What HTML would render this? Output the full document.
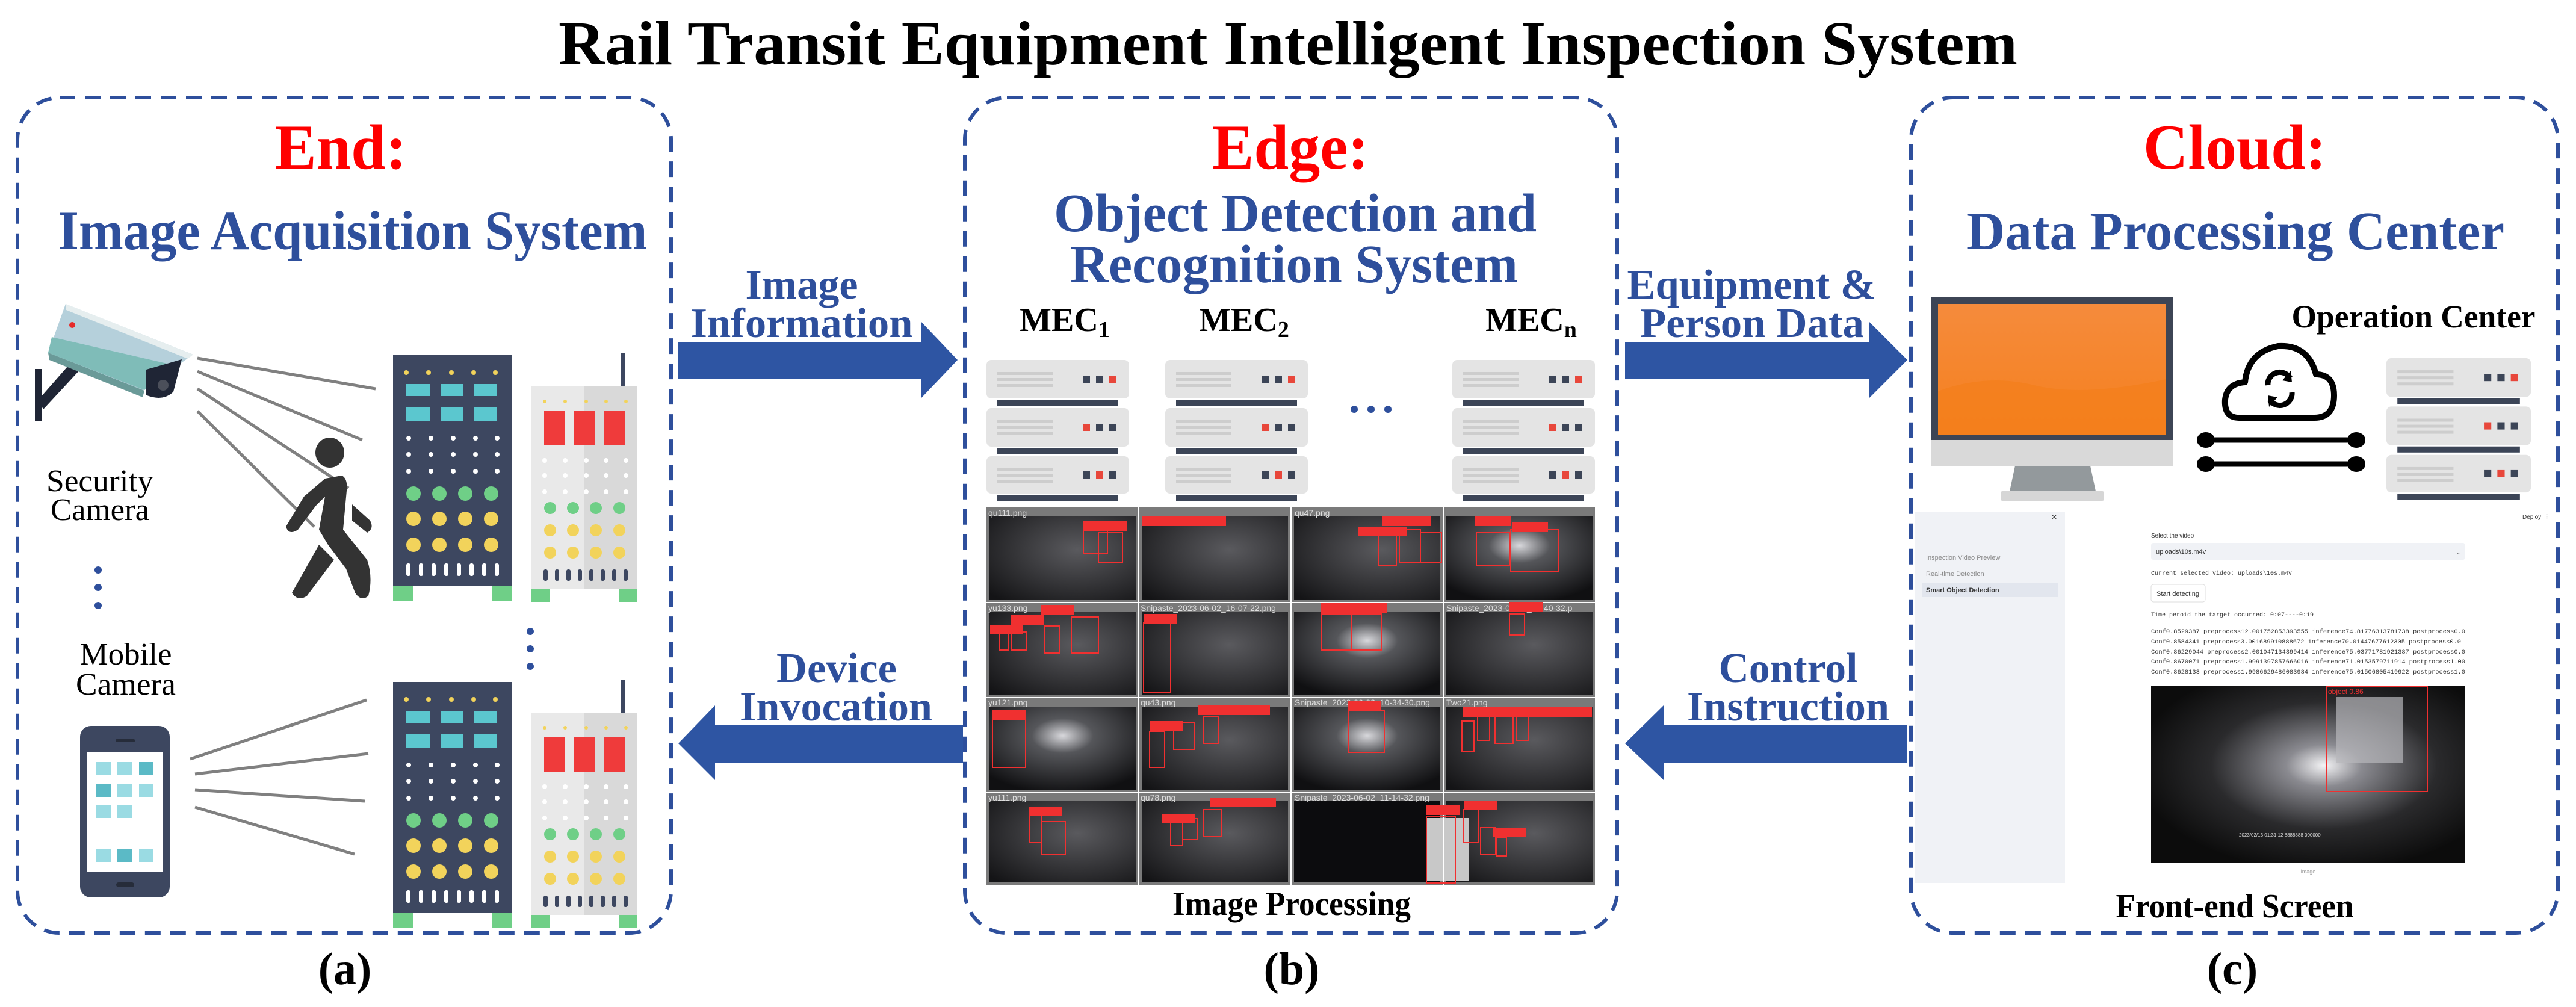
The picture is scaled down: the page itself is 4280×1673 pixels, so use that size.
<!DOCTYPE html>
<html><head><meta charset="utf-8"><style>
html,body{margin:0;padding:0;background:#fff}
svg{display:block}
.t{font-family:"Liberation Serif",serif;font-weight:bold}
.b{fill:#2E4F9C}
.r{fill:#FF0000}
.k{fill:#000}
.ui{font-family:"Liberation Sans",sans-serif}
.mono{font-family:"Liberation Mono",monospace}
</style></head><body>
<svg width="4280" height="1673" viewBox="0 0 4280 1673" xmlns="http://www.w3.org/2000/svg">
<defs>
<g id="srv">
 <rect x="0" y="0" width="237" height="64" rx="8" fill="#e4e4e4"/>
 <rect x="18" y="66" width="201" height="10" fill="#3c4557"/>
 <rect x="0" y="80" width="237" height="64" rx="8" fill="#e4e4e4"/>
 <rect x="18" y="146" width="201" height="10" fill="#3c4557"/>
 <rect x="0" y="160" width="237" height="62" rx="8" fill="#e4e4e4"/>
 <rect x="18" y="224" width="201" height="10" fill="#3c4557"/>
 <g fill="#cdcdcd">
  <rect x="18" y="20" width="92" height="5"/><rect x="18" y="30" width="92" height="5"/><rect x="18" y="40" width="92" height="5"/>
  <rect x="18" y="100" width="92" height="5"/><rect x="18" y="110" width="92" height="5"/><rect x="18" y="120" width="92" height="5"/>
  <rect x="18" y="180" width="92" height="5"/><rect x="18" y="190" width="92" height="5"/><rect x="18" y="200" width="92" height="5"/>
 </g>
 <rect x="160" y="26" width="12" height="12" fill="#3c4557"/><rect x="182" y="26" width="12" height="12" fill="#3c4557"/><rect x="204" y="26" width="12" height="12" fill="#e8473b"/>
 <rect x="160" y="106" width="12" height="12" fill="#e8473b"/><rect x="182" y="106" width="12" height="12" fill="#3c4557"/><rect x="204" y="106" width="12" height="12" fill="#3c4557"/>
 <rect x="160" y="185" width="12" height="12" fill="#3c4557"/><rect x="182" y="185" width="12" height="12" fill="#e8473b"/><rect x="204" y="185" width="12" height="12" fill="#3c4557"/>
</g>
<g id="rack1">
 <rect x="0" y="0" width="197" height="384" fill="#3d4760"/>
 <rect x="0" y="384" width="33" height="24" fill="#6fcf87"/><rect x="164" y="384" width="33" height="24" fill="#6fcf87"/>
 <g fill="#f2d35b"><circle cx="22" cy="29" r="4"/><circle cx="59" cy="29" r="4"/><circle cx="97" cy="29" r="4"/><circle cx="134" cy="29" r="4"/><circle cx="170" cy="29" r="4"/></g>
 <g fill="#5bc7cf"><rect x="22" y="48" width="39" height="20"/><rect x="79" y="48" width="38" height="20"/><rect x="135" y="48" width="38" height="20"/>
 <rect x="22" y="87" width="39" height="22"/><rect x="79" y="87" width="38" height="22"/><rect x="135" y="87" width="38" height="22"/></g>
 <g fill="#fff">
  <circle cx="26" cy="138" r="4"/><circle cx="63" cy="138" r="4"/><circle cx="100" cy="138" r="4"/><circle cx="137" cy="138" r="4"/><circle cx="173" cy="138" r="4"/>
  <circle cx="26" cy="165" r="4"/><circle cx="63" cy="165" r="4"/><circle cx="100" cy="165" r="4"/><circle cx="137" cy="165" r="4"/><circle cx="173" cy="165" r="4"/>
  <circle cx="26" cy="193" r="4"/><circle cx="63" cy="193" r="4"/><circle cx="100" cy="193" r="4"/><circle cx="137" cy="193" r="4"/><circle cx="173" cy="193" r="4"/>
  <rect x="22" y="346" width="7" height="21" rx="3"/><rect x="43" y="346" width="7" height="21" rx="3"/><rect x="64" y="346" width="7" height="21" rx="3"/><rect x="85" y="346" width="7" height="21" rx="3"/><rect x="106" y="346" width="7" height="21" rx="3"/><rect x="127" y="346" width="7" height="21" rx="3"/><rect x="148" y="346" width="7" height="21" rx="3"/><rect x="169" y="346" width="7" height="21" rx="3"/>
 </g>
 <g fill="#6fcf87"><circle cx="34" cy="230" r="12"/><circle cx="77" cy="230" r="12"/><circle cx="120" cy="230" r="12"/><circle cx="163" cy="230" r="12"/></g>
 <g fill="#f2d35b"><circle cx="34" cy="272" r="12"/><circle cx="77" cy="272" r="12"/><circle cx="120" cy="272" r="12"/><circle cx="163" cy="272" r="12"/>
 <circle cx="34" cy="315" r="12"/><circle cx="77" cy="315" r="12"/><circle cx="120" cy="315" r="12"/><circle cx="163" cy="315" r="12"/></g>
</g>
<g id="rack2">
 <rect x="148" y="-55" width="8" height="56" fill="#3d4760"/>
 <rect x="0" y="0" width="88" height="336" fill="#e9e9e9"/><rect x="88" y="0" width="88" height="336" fill="#d9d9d9"/>
 <rect x="0" y="336" width="30" height="22" fill="#6fcf87"/><rect x="146" y="336" width="30" height="22" fill="#6fcf87"/>
 <g fill="#f2d35b"><circle cx="22" cy="25" r="3"/><circle cx="56" cy="25" r="3"/><circle cx="91" cy="25" r="3"/><circle cx="124" cy="25" r="3"/><circle cx="157" cy="25" r="3"/></g>
 <g fill="#ef3b3b"><rect x="21" y="41" width="35" height="57"/><rect x="71" y="41" width="34" height="57"/><rect x="121" y="41" width="34" height="57"/></g>
 <g fill="#fff">
  <circle cx="22" cy="123" r="4"/><circle cx="56" cy="123" r="4"/><circle cx="91" cy="123" r="4"/><circle cx="124" cy="123" r="4"/><circle cx="157" cy="123" r="4"/>
  <circle cx="22" cy="148" r="4"/><circle cx="56" cy="148" r="4"/><circle cx="91" cy="148" r="4"/><circle cx="124" cy="148" r="4"/><circle cx="157" cy="148" r="4"/>
  <circle cx="22" cy="175" r="4"/><circle cx="56" cy="175" r="4"/><circle cx="91" cy="175" r="4"/><circle cx="124" cy="175" r="4"/><circle cx="157" cy="175" r="4"/>
 </g>
 <g fill="#6fcf87"><circle cx="31" cy="202" r="10"/><circle cx="69" cy="202" r="10"/><circle cx="107" cy="202" r="10"/><circle cx="146" cy="202" r="10"/></g>
 <g fill="#f2d35b"><circle cx="31" cy="239" r="10"/><circle cx="69" cy="239" r="10"/><circle cx="107" cy="239" r="10"/><circle cx="146" cy="239" r="10"/>
 <circle cx="31" cy="276" r="10"/><circle cx="69" cy="276" r="10"/><circle cx="107" cy="276" r="10"/><circle cx="146" cy="276" r="10"/></g>
 <g fill="#3d4760"><rect x="20" y="304" width="7" height="19" rx="3"/><rect x="39" y="304" width="7" height="19" rx="3"/><rect x="58" y="304" width="7" height="19" rx="3"/><rect x="77" y="304" width="7" height="19" rx="3"/><rect x="96" y="304" width="7" height="19" rx="3"/><rect x="115" y="304" width="7" height="19" rx="3"/><rect x="134" y="304" width="7" height="19" rx="3"/><rect x="153" y="304" width="7" height="19" rx="3"/></g>
</g>
<radialGradient id="dk" cx="0.6" cy="0.4" r="0.8"><stop offset="0" stop-color="#5a5a5e"/><stop offset="1" stop-color="#141416"/></radialGradient>
<radialGradient id="dk2" cx="0.5" cy="0.35" r="0.7"><stop offset="0" stop-color="#d8d8dc"/><stop offset="0.3" stop-color="#55565a"/><stop offset="1" stop-color="#101012"/></radialGradient>
<linearGradient id="org" x1="0" y1="0" x2="0" y2="1"><stop offset="0" stop-color="#f58b3c"/><stop offset="1" stop-color="#f5801e"/></linearGradient>
</defs>

<!-- Title -->
<text class="t k" x="2140" y="107" font-size="104" text-anchor="middle" textLength="2424" lengthAdjust="spacingAndGlyphs">Rail Transit Equipment Intelligent Inspection System</text>

<!-- Dashed boxes -->
<g fill="none" stroke="#2E4F9C" stroke-width="6" stroke-dasharray="26 16">
<rect x="29" y="162" width="1086" height="1388" rx="70"/>
<rect x="1603" y="162" width="1084" height="1388" rx="70"/>
<rect x="3175" y="162" width="1075" height="1388" rx="70"/>
</g>

<!-- Panel A -->
<text class="t r" x="566" y="280" font-size="106" text-anchor="middle" textLength="219" lengthAdjust="spacingAndGlyphs">End:</text>
<text class="t b" x="586" y="414" font-size="92" text-anchor="middle" textLength="979" lengthAdjust="spacingAndGlyphs">Image Acquisition System</text>

<!-- camera -->
<path d="M58 613 L69 613 L69 700 L58 700 Z" fill="#1f2535"/>
<path d="M63 665 L120 600 L135 612 L72 680 Z" fill="#1f2535"/>
<path d="M109 505 L321 589 L301 603 L237 649 L80 586 Z" fill="#b5d0db"/>
<path d="M109 505 L321 589 L312 596 L110 515 Z" fill="#e6eeef"/>
<path d="M86 560 L295 608 L240 648 L80 586 Z" fill="#7fbcb8"/>
<path d="M80 586 L240 649 L237 660 L82 598 Z" fill="#6a9a98"/>
<path d="M243 614 L302 597 L288 651 Q270 668 242 656 Z" fill="#1f2535"/>
<circle cx="271" cy="640" r="9" fill="#4b4f5a"/>
<circle cx="120" cy="540" r="5" fill="#e62a2a"/>
<g stroke="#808080" stroke-width="5">
<line x1="328" y1="595" x2="624" y2="646"/>
<line x1="328" y1="617" x2="602" y2="731"/>
<line x1="328" y1="646" x2="579" y2="811"/>
<line x1="328" y1="683" x2="522" y2="875"/>
</g>
<!-- person -->
<g fill="#333">
<ellipse cx="548" cy="752" rx="24" ry="25"/>
<path d="M540 795 L568 790 Q578 795 576 815 L570 880 L610 930 Q620 960 612 990 Q600 1000 590 985 L575 945 L545 905 L530 880 L540 825 L525 840 L495 880 Q480 890 475 875 L505 825 Z"/>
<path d="M585 838 L615 865 Q622 878 610 885 L585 865 Z"/>
<path d="M530 905 L555 930 L510 990 Q495 1000 485 985 Z"/>
</g>
<use href="#rack1" x="653" y="590"/>
<use href="#rack2" x="883" y="642"/>
<use href="#rack1" x="653" y="1133"/>
<use href="#rack2" x="883" y="1184"/>
<g fill="#2E4F9C">
<circle cx="881" cy="1049" r="6"/><circle cx="881" cy="1078" r="6"/><circle cx="881" cy="1107" r="6"/>
<circle cx="163" cy="947" r="6"/><circle cx="163" cy="976" r="6"/><circle cx="163" cy="1006" r="6"/>
</g>
<g font-family="Liberation Serif, serif" font-size="52" text-anchor="middle" fill="#000">
<text x="166" y="816" textLength="178" lengthAdjust="spacingAndGlyphs">Security</text>
<text x="166" y="864" textLength="164" lengthAdjust="spacingAndGlyphs">Camera</text>
<text x="209" y="1104" textLength="153" lengthAdjust="spacingAndGlyphs">Mobile</text>
<text x="209" y="1154" textLength="166" lengthAdjust="spacingAndGlyphs">Camera</text>
</g>
<!-- phone -->
<rect x="133" y="1206" width="149" height="285" rx="18" fill="#3d4760"/>
<rect x="145" y="1250" width="125" height="198" fill="#fff"/>
<rect x="192" y="1228" width="32" height="5" rx="2" fill="#262c3a"/>
<rect x="193" y="1466" width="30" height="8" rx="4" fill="#262c3a"/>
<g fill="#9adbe3">
<rect x="160" y="1266" width="24" height="22"/><rect x="195" y="1266" width="24" height="22"/>
<rect x="195" y="1302" width="24" height="22"/><rect x="231" y="1302" width="24" height="22"/>
<rect x="160" y="1337" width="24" height="22"/><rect x="195" y="1337" width="24" height="22"/>
<rect x="160" y="1410" width="24" height="22"/><rect x="231" y="1410" width="24" height="22"/>
</g>
<g fill="#5bbac6"><rect x="231" y="1266" width="24" height="22"/><rect x="160" y="1302" width="24" height="22"/><rect x="195" y="1410" width="24" height="22"/></g>
<g stroke="#808080" stroke-width="5">
<line x1="316" y1="1261" x2="609" y2="1163"/>
<line x1="324" y1="1286" x2="612" y2="1252"/>
<line x1="324" y1="1312" x2="606" y2="1331"/>
<line x1="324" y1="1341" x2="589" y2="1419"/>
</g>
<text class="t k" x="573" y="1635" font-size="76" text-anchor="middle">(a)</text>

<!-- Arrows -->
<g fill="#2E55A3">
<path d="M1127 569 L1530 569 L1530 534 L1591 598 L1530 662 L1530 630 L1127 630 Z"/>
<path d="M1600 1204 L1188 1204 L1188 1172 L1127 1235 L1188 1296 L1188 1267 L1600 1267 Z"/>
<path d="M2700 569 L3105 569 L3105 534 L3169 598 L3105 662 L3105 630 L2700 630 Z"/>
<path d="M3169 1204 L2764 1204 L2764 1172 L2700 1235 L2764 1296 L2764 1267 L3169 1267 Z"/>
</g>
<g class="t b" font-size="70" text-anchor="middle">
<text x="1332" y="496" textLength="187" lengthAdjust="spacingAndGlyphs">Image</text>
<text x="1332" y="560" textLength="369" lengthAdjust="spacingAndGlyphs">Information</text>
<text x="1390" y="1133" textLength="200" lengthAdjust="spacingAndGlyphs">Device</text>
<text x="1389" y="1197" textLength="320" lengthAdjust="spacingAndGlyphs">Invocation</text>
<text x="2910" y="496" textLength="413" lengthAdjust="spacingAndGlyphs">Equipment &amp;</text>
<text x="2911" y="560" textLength="372" lengthAdjust="spacingAndGlyphs">Person Data</text>
<text x="2971" y="1133" textLength="231" lengthAdjust="spacingAndGlyphs">Control</text>
<text x="2971" y="1197" textLength="336" lengthAdjust="spacingAndGlyphs">Instruction</text>
</g>

<!-- Panel B -->
<text class="t r" x="2144" y="280" font-size="106" text-anchor="middle" textLength="260" lengthAdjust="spacingAndGlyphs">Edge:</text>
<text class="t b" x="2152" y="384" font-size="90" text-anchor="middle" textLength="802" lengthAdjust="spacingAndGlyphs">Object Detection and</text>
<text class="t b" x="2150" y="469" font-size="90" text-anchor="middle" textLength="744" lengthAdjust="spacingAndGlyphs">Recognition System</text>
<g class="t k" font-size="56" text-anchor="middle">
<text x="1769" y="550">MEC<tspan font-size="38" dy="10">1</tspan></text>
<text x="2067" y="550">MEC<tspan font-size="38" dy="10">2</tspan></text>
<text x="2544" y="550">MEC<tspan font-size="38" dy="10">n</tspan></text>
</g>
<use href="#srv" x="1639" y="598"/>
<use href="#srv" x="1936" y="598"/>
<use href="#srv" x="2413" y="598"/>
<g fill="#2E4F9C"><circle cx="2250" cy="680" r="6"/><circle cx="2278" cy="680" r="6"/><circle cx="2306" cy="680" r="6"/></g>

<!-- image grid -->
<rect x="1639" y="843" width="1011" height="627" fill="#7a7a7a"/>
<g fill="url(#dk)">
<rect x="1644" y="858" width="243" height="138"/><rect x="1897" y="858" width="243" height="138"/><rect x="2150" y="858" width="243" height="138"/><rect x="2403" y="858" width="243" height="138" fill="url(#dk2)"/>
<rect x="1644" y="1016" width="243" height="138"/><rect x="1897" y="1016" width="243" height="138"/><rect x="2150" y="1016" width="243" height="138" fill="url(#dk2)"/><rect x="2403" y="1016" width="243" height="138"/>
<rect x="1644" y="1174" width="243" height="138" fill="url(#dk2)"/><rect x="1897" y="1174" width="243" height="138"/><rect x="2150" y="1174" width="243" height="138" fill="url(#dk2)"/><rect x="2403" y="1174" width="243" height="138"/>
<rect x="1644" y="1331" width="243" height="134"/><rect x="1897" y="1331" width="243" height="134"/><rect x="2150" y="1331" width="243" height="134" fill="#0c0c0e"/><rect x="2403" y="1331" width="243" height="134"/>
</g>
<rect x="2370" y="1359" width="70" height="105" fill="#c8c8c8"/>
<g stroke="#fff" stroke-width="2">
<line x1="1892" y1="843" x2="1892" y2="1470"/><line x1="2145" y1="843" x2="2145" y2="1470"/><line x1="2398" y1="843" x2="2398" y2="1470"/>
<line x1="1639" y1="1001" x2="2650" y2="1001"/><line x1="1639" y1="1159" x2="2650" y2="1159"/><line x1="1639" y1="1316" x2="2650" y2="1316"/>
</g>
<g class="ui" font-size="14" fill="#ddd">
<text x="1642" y="857">qu111.png</text><text x="2151" y="857">qu47.png</text>
<text x="1642" y="1015">yu133.png</text><text x="1895" y="1015">Snipaste_2023-06-02_16-07-22.png</text><text x="2403" y="1015">Snipaste_2023-06-02_12-40-32.p</text>
<text x="1642" y="1172">yu121.png</text><text x="1895" y="1172">qu43.png</text><text x="2151" y="1172">Snipaste_2023-06-02_10-34-30.png</text><text x="2403" y="1172">Two21.png</text>
<text x="1642" y="1330">yu111.png</text><text x="1895" y="1330">qu78.png</text><text x="2151" y="1330">Snipaste_2023-06-02_11-14-32.png</text>
</g>
<g fill="none" stroke="#f03030" stroke-width="2">
<rect x="1800" y="880" width="40" height="40"/><rect x="1825" y="885" width="40" height="50"/>
<rect x="2290" y="890" width="30" height="50"/><rect x="2325" y="880" width="35" height="55"/><rect x="2360" y="885" width="35" height="50"/>
<rect x="2453" y="885" width="55" height="55"/><rect x="2510" y="880" width="80" height="70"/>
<rect x="1660" y="1050" width="15" height="30"/><rect x="1680" y="1050" width="25" height="30"/><rect x="1735" y="1040" width="25" height="45"/><rect x="1780" y="1025" width="45" height="60"/>
<rect x="1900" y="1035" width="45" height="115"/>
<rect x="2195" y="1020" width="50" height="60"/><rect x="2245" y="1020" width="50" height="60"/>
<rect x="2508" y="1020" width="25" height="35"/>
<rect x="1649" y="1195" width="55" height="80"/>
<rect x="1910" y="1215" width="25" height="60"/><rect x="1950" y="1200" width="35" height="45"/><rect x="2000" y="1190" width="25" height="45"/>
<rect x="2240" y="1180" width="60" height="70"/>
<rect x="2429" y="1198" width="20" height="50"/><rect x="2455" y="1190" width="20" height="40"/><rect x="2484" y="1190" width="30" height="45"/><rect x="2520" y="1190" width="20" height="40"/>
<rect x="1710" y="1355" width="20" height="45"/><rect x="1730" y="1365" width="40" height="55"/>
<rect x="1945" y="1365" width="20" height="40"/><rect x="1965" y="1360" width="25" height="35"/><rect x="2000" y="1345" width="30" height="45"/>
<rect x="2370" y="1357" width="48" height="110"/>
<rect x="2432" y="1345" width="25" height="55"/><rect x="2460" y="1375" width="25" height="45"/><rect x="2486" y="1392" width="17" height="30"/>
</g>
<g fill="#f03030">
<rect x="1800" y="866" width="72" height="16"/><rect x="1897" y="858" width="140" height="16"/>
<rect x="2297" y="858" width="80" height="16"/><rect x="2257" y="875" width="80" height="16"/><rect x="2450" y="858" width="60" height="16"/><rect x="2512" y="868" width="60" height="16"/>
<rect x="1645" y="1038" width="55" height="16"/><rect x="1680" y="1022" width="55" height="16"/><rect x="1730" y="1005" width="55" height="16"/><rect x="1900" y="1020" width="55" height="16"/>
<rect x="2195" y="1002" width="55" height="16"/><rect x="2250" y="1002" width="55" height="16"/><rect x="2508" y="1000" width="55" height="16"/>
<rect x="1649" y="1180" width="55" height="16"/><rect x="1910" y="1198" width="55" height="16"/><rect x="1990" y="1172" width="120" height="16"/><rect x="2240" y="1165" width="55" height="16"/><rect x="2430" y="1175" width="215" height="16"/>
<rect x="1710" y="1340" width="55" height="16"/><rect x="1930" y="1352" width="55" height="16"/><rect x="2010" y="1325" width="110" height="16"/><rect x="2370" y="1338" width="55" height="16"/><rect x="2432" y="1330" width="55" height="16"/><rect x="2480" y="1375" width="55" height="16"/>
</g>
<text class="t k" x="2146" y="1520" font-size="56" text-anchor="middle" textLength="396" lengthAdjust="spacingAndGlyphs">Image Processing</text>
<text class="t k" x="2146" y="1635" font-size="76" text-anchor="middle">(b)</text>

<!-- Panel C -->
<text class="t r" x="3713" y="280" font-size="106" text-anchor="middle" textLength="304" lengthAdjust="spacingAndGlyphs">Cloud:</text>
<text class="t b" x="3714" y="414" font-size="90" text-anchor="middle" textLength="894" lengthAdjust="spacingAndGlyphs">Data Processing Center</text>
<!-- monitor -->
<rect x="3209" y="493" width="401" height="240" fill="#3d4555"/>
<rect x="3209" y="731" width="401" height="43" fill="#d9d9d9"/>
<rect x="3220" y="505" width="379" height="217" fill="url(#org)"/>
<path d="M3220 650 Q3300 620 3380 640 T3599 630 L3599 722 L3220 722 Z" fill="#f47f1b" opacity="0.7"/>
<path d="M3348 774 L3473 774 L3482 816 L3339 816 Z" fill="#93999c"/>
<rect x="3324" y="816" width="172" height="16" rx="3" fill="#d6d6d6"/>
<text class="t k" x="4010" y="544" font-size="54" text-anchor="middle" textLength="405" lengthAdjust="spacingAndGlyphs">Operation Center</text>
<!-- cloud icon -->
<path d="M3720 694 Q3695 694 3697 664 Q3700 637 3730 635 Q3735 585 3785 575 Q3835 572 3848 622 Q3878 622 3878 657 Q3878 694 3845 694 Z" fill="none" stroke="#000" stroke-width="10" stroke-linejoin="round"/>
<path d="M3768 640 A20 20 0 0 1 3805 628" fill="none" stroke="#000" stroke-width="9"/>
<path d="M3806 616 L3808 635 L3792 632 Z" fill="#000"/>
<path d="M3808 652 A20 20 0 0 1 3771 664" fill="none" stroke="#000" stroke-width="9"/>
<path d="M3770 676 L3768 657 L3784 660 Z" fill="#000"/>
<g stroke="#000" stroke-width="9"><line x1="3665" y1="731" x2="3915" y2="731"/><line x1="3665" y1="771" x2="3915" y2="771"/></g>
<g fill="#000"><ellipse cx="3665" cy="731" rx="15" ry="13"/><ellipse cx="3915" cy="731" rx="15" ry="13"/><ellipse cx="3665" cy="771" rx="15" ry="13"/><ellipse cx="3915" cy="771" rx="15" ry="13"/></g>
<use href="#srv" transform="translate(3965 595) scale(1.013 1.005)"/>
<!-- front end screen -->
<rect x="3182" y="850" width="249" height="617" fill="#f0f2f6"/>
<text class="ui" x="3413" y="864" font-size="16" fill="#333" text-anchor="middle">×</text>
<g class="ui" font-size="11" fill="#888">
<text x="3200" y="930">Inspection Video Preview</text>
<text x="3200" y="957">Real-time Detection</text>
</g>
<rect x="3194" y="968" width="225" height="24" fill="#e2e6ee"/>
<text class="ui" x="3200" y="984" font-size="11" fill="#333" font-weight="bold">Smart Object Detection</text>
<text class="ui" x="4191" y="862" font-size="10" fill="#333">Deploy</text>
<text class="ui" x="4226" y="862" font-size="11" fill="#333">⋮</text>
<text class="ui" x="3574" y="893" font-size="10" fill="#333">Select the video</text>
<rect x="3574" y="902" width="522" height="28" rx="4" fill="#f0f2f6"/>
<text class="ui" x="3582" y="920" font-size="11" fill="#333">uploads\10s.m4v</text>
<text class="ui" x="4080" y="921" font-size="10" fill="#333">⌄</text>
<text class="mono" x="3574" y="955" font-size="10" fill="#333">Current selected video: uploads\10s.m4v</text>
<rect x="3574" y="971" width="90" height="29" rx="4" fill="#fff" stroke="#ddd"/>
<text class="ui" x="3583" y="990" font-size="11" fill="#333">Start detecting</text>
<text class="mono" x="3574" y="1024" font-size="10" fill="#333">Time peroid the target occurred: 0:07----0:19</text>
<g class="mono" font-size="10" fill="#333">
<text x="3574" y="1052" textLength="522" lengthAdjust="spacingAndGlyphs">Conf0.8529387 preprocess12.001752853393555 inference74.81776313781738 postprocess0.0</text>
<text x="3574" y="1069" textLength="515" lengthAdjust="spacingAndGlyphs">Conf0.8584341 preprocess3.001689910888672 inference70.01447677612305 postprocess0.0</text>
<text x="3574" y="1086" textLength="522" lengthAdjust="spacingAndGlyphs">Conf0.86229044 preprocess2.001047134399414 inference75.03771781921387 postprocess0.0</text>
<text x="3574" y="1102" textLength="522" lengthAdjust="spacingAndGlyphs">Conf0.8670071 preprocess1.9991397857666016 inference71.0153579711914 postprocess1.00</text>
<text x="3574" y="1119" textLength="522" lengthAdjust="spacingAndGlyphs">Conf0.8628133 preprocess1.9986629486083984 inference75.01506805419922 postprocess1.0</text>
</g>
<radialGradient id="cam" cx="0.55" cy="0.45" r="0.6"><stop offset="0" stop-color="#f4f4f6"/><stop offset="0.2" stop-color="#8a8a90"/><stop offset="0.6" stop-color="#2a2a2c"/><stop offset="1" stop-color="#0c0c0c"/></radialGradient>
<rect x="3574" y="1140" width="522" height="293" fill="url(#cam)"/>
<rect x="3882" y="1158" width="110" height="110" fill="#b8b8bc" opacity="0.7"/>
<rect x="3866" y="1140" width="167" height="175" fill="none" stroke="#f03030" stroke-width="2"/>
<text class="ui" x="3868" y="1153" font-size="12" fill="#f03030">object 0.86</text>
<text class="ui" x="3720" y="1390" font-size="8" fill="#ddd">2023/02/13 01:31:12   8888888   000000</text>
<text class="ui" x="3835" y="1451" font-size="9" fill="#999" text-anchor="middle">image</text>
<text class="t k" x="3713" y="1524" font-size="56" text-anchor="middle" textLength="395" lengthAdjust="spacingAndGlyphs">Front-end Screen</text>
<text class="t k" x="3709" y="1635" font-size="76" text-anchor="middle">(c)</text>
</svg>
</body></html>
